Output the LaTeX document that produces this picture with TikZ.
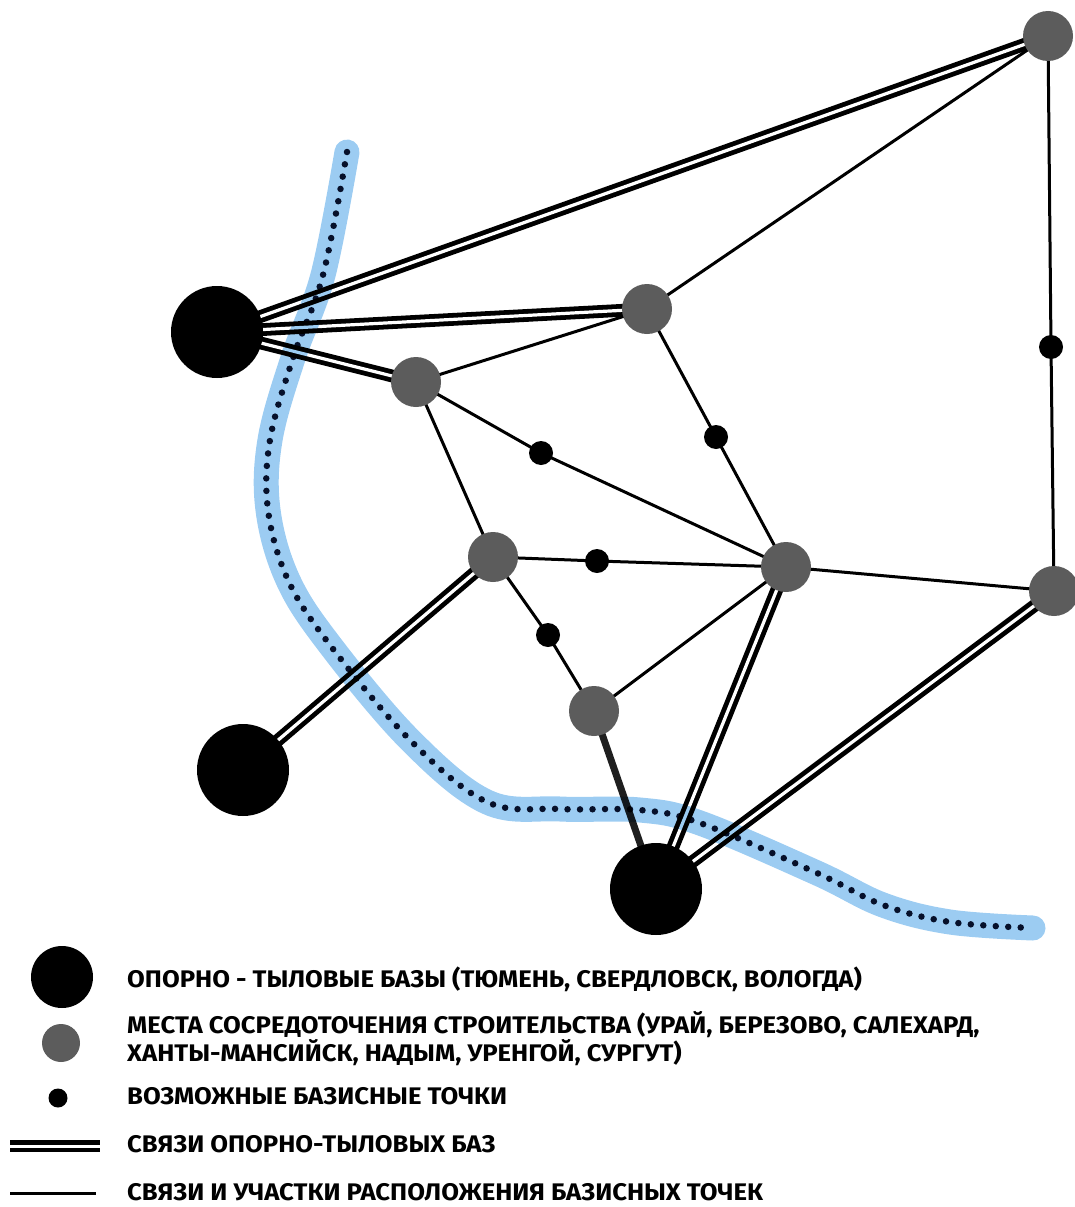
\documentclass[tikz,border=0pt]{standalone}
\usepackage{fontspec}
\setmainfont{Fira Sans}
\usetikzlibrary{backgrounds}
\definecolor{nodegray}{RGB}{92,92,92}
\definecolor{riverblue}{RGB}{156,204,242}
\definecolor{rivernavy}{RGB}{10,20,45}
\pgfdeclarelayer{edges}
\pgfdeclarelayer{river}
\pgfsetlayers{edges,river,main}
\begin{document}
\begin{tikzpicture}[x=1pt,y=-1pt,
  bigbase/.style={circle,fill=black,minimum size=92pt,inner sep=0pt},
  site/.style={circle,fill=nodegray,minimum size=50pt,inner sep=0pt},
  pt/.style={circle,fill=black,minimum size=24pt,inner sep=0pt},
  dbl/.style={line width=4.8pt,double=white,double distance=3.2pt},
  sgl/.style={line width=3pt},
  thick7/.style={line width=7pt,draw=black!88},
  legtext/.style={anchor=west,font=\fontsize{24}{28}\selectfont\bfseries,align=left,inner sep=0pt,xscale=1.07}]
\useasboundingbox (0,0) rectangle (1075,1207);
% main nodes
\node[bigbase] (B1) at (217,332) {};
\node[bigbase] (B2) at (243,770) {};
\node[bigbase] (B3) at (656,889) {};
\node[site] (TR) at (1048,36) {};
\node[site] (G1) at (647,309) {};
\node[site] (G2) at (416,382) {};
\node[site] (G3) at (493,557) {};
\node[site] (G4) at (786,567) {};
\node[site] (G5) at (1054,591) {};
\node[site] (G6) at (594,711) {};
\node[pt] (d1) at (1051,347) {};
\node[pt] (d2) at (716,437) {};
\node[pt] (d3) at (541,453) {};
\node[pt] (d4) at (597,561) {};
\node[pt] (d5) at (548,635) {};
% edges
\begin{pgfonlayer}{edges}
\draw[dbl] (B1.center) -- (TR.center);
\draw[dbl] (B1.center) -- (G1.center);
\draw[dbl] (B1.center) -- (G2.center);
\draw[dbl] (B2.center) -- (G3.center);
\draw[dbl] (B3.center) -- (G4.center);
\draw[dbl] (B3.center) -- (G5.center);
\draw[thick7] (B3.center) -- (G6.center);
\draw[sgl] (TR.center) -- (G1.center);
\draw[sgl] (TR.center) -- (d1.center) -- (G5.center);
\draw[sgl] (G1.center) -- (G2.center);
\draw[sgl] (G1.center) -- (d2.center) -- (G4.center);
\draw[sgl] (G2.center) -- (G3.center);
\draw[sgl] (G2.center) -- (d3.center) -- (G4.center);
\draw[sgl] (G3.center) -- (d4.center) -- (G4.center);
\draw[sgl] (G3.center) -- (d5.center) -- (G6.center);
\draw[sgl] (G4.center) -- (G5.center);
\draw[sgl] (G4.center) -- (G6.center);
\end{pgfonlayer}
% river
\begin{pgfonlayer}{river}
\begin{scope}[blend mode=multiply]
\draw[riverblue,line width=25pt,line cap=round,line join=round]
  plot[smooth,tension=0.6] coordinates {(347,152) (323,275) (293,358) (270,440) (268,510) (288,580) (330,645) (410,740) (487,802) (560,809) (640,810) (700,823) (817,873) (883,905) (950,922) (1033,928)};
\draw[rivernavy,line width=6.5pt,line cap=round,dash pattern=on 0pt off 12.5pt]
  plot[smooth,tension=0.6] coordinates {(347,152) (323,275) (293,358) (270,440) (268,510) (288,580) (330,645) (410,740) (487,802) (560,809) (640,810) (700,823) (817,873) (883,905) (950,922) (1033,928)};
\end{scope}
\end{pgfonlayer}
% legend
\node[circle,fill=black,minimum size=62pt,inner sep=0pt] (L1) at (62,977) {};
\node[circle,fill=nodegray,minimum size=38pt,inner sep=0pt] (L2) at (61,1043) {};
\node[circle,fill=black,minimum size=19pt,inner sep=0pt] (L3) at (58,1098) {};
\coordinate (L4a) at (10,1146);
\coordinate (L4b) at (100,1146);
\draw[line width=4.5pt,double=white,double distance=3pt] (L4a) -- (L4b);
\coordinate (L5a) at (10,1193);
\coordinate (L5b) at (96,1193);
\draw[sgl] (L5a) -- (L5b);
\node[legtext] (T1) at (127,979) {ОПОРНО - ТЫЛОВЫЕ БАЗЫ (ТЮМЕНЬ, СВЕРДЛОВСК, ВОЛОГДА)};
\node[legtext] (T2) at (127,1039) {МЕСТА СОСРЕДОТОЧЕНИЯ СТРОИТЕЛЬСТВА (УРАЙ, БЕРЕЗОВО, САЛЕХАРД,\\ХАНТЫ-МАНСИЙСК, НАДЫМ, УРЕНГОЙ, СУРГУТ)};
\node[legtext] (T3) at (127,1096) {ВОЗМОЖНЫЕ БАЗИСНЫЕ ТОЧКИ};
\node[legtext] (T4) at (127,1144) {СВЯЗИ ОПОРНО-ТЫЛОВЫХ БАЗ};
\node[legtext] (T5) at (127,1192) {СВЯЗИ И УЧАСТКИ РАСПОЛОЖЕНИЯ БАЗИСНЫХ ТОЧЕК};
\end{tikzpicture}
\end{document}
